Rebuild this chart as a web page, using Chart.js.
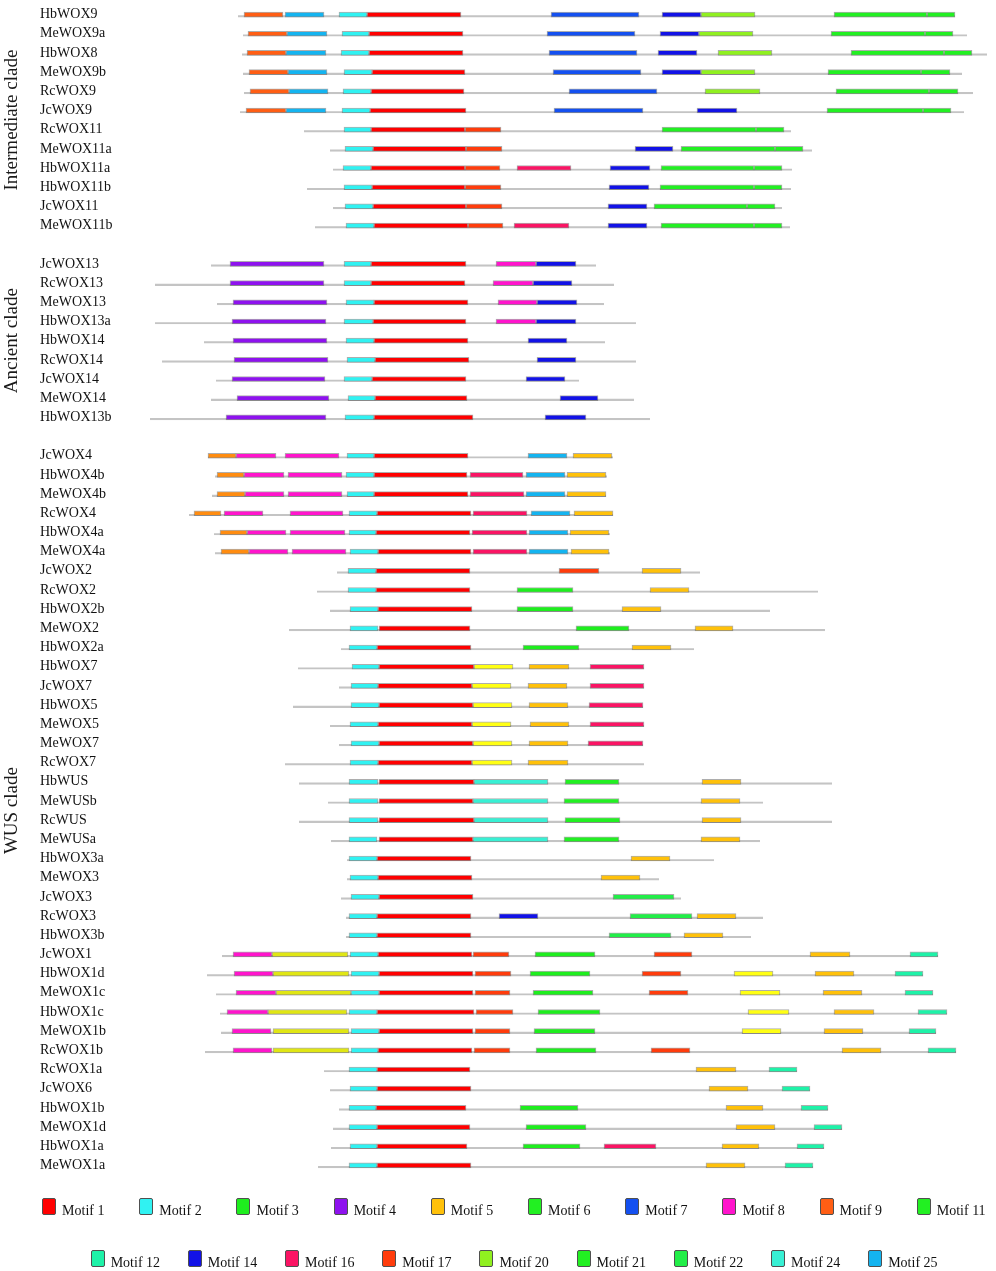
<!DOCTYPE html>
<html>
<head>
<meta charset="utf-8">
<title>WOX protein motifs</title>
<script src="https://cdn.jsdelivr.net/npm/chart.js@4.4.1/dist/chart.umd.min.js"></script>
<style>
  body { margin: 0; overflow: hidden; background: #fff; }
  #wrap { position: absolute; left: 0; top: 0; width: 996px; height: 1271px; }
  #legend {
    position: absolute; left: 30px; top: 1198px; width: 996px;
    display: flex; flex-wrap: wrap; justify-content: center;
    font: 14px 'Liberation Serif', 'Times New Roman', serif; color: #111;
  }
  .cell { width: 97.2px; height: 52px; display: flex; align-items: baseline; }
  .swatch {
    display: inline-block; width: 14px; height: 17px; margin-right: 6px;
    border: 1px solid #505050; border-radius: 2px; box-sizing: border-box;
  }
</style>
</head>
<body>
<div id="wrap"><canvas id="chart"></canvas></div>
<div id="legend"></div>
<script>
// rows top to bottom, '' = gap between clades
const genes = [
  'HbWOX9', 'MeWOX9a', 'HbWOX8', 'MeWOX9b', 'RcWOX9', 'JcWOX9', 'RcWOX11', 'MeWOX11a',
  'HbWOX11a', 'HbWOX11b', 'JcWOX11', 'MeWOX11b', '',
  'JcWOX13', 'RcWOX13', 'MeWOX13', 'HbWOX13a', 'HbWOX14', 'RcWOX14', 'JcWOX14', 'MeWOX14',
  'HbWOX13b', '',
  'JcWOX4', 'HbWOX4b', 'MeWOX4b', 'RcWOX4', 'HbWOX4a', 'MeWOX4a', 'JcWOX2', 'RcWOX2',
  'HbWOX2b', 'MeWOX2', 'HbWOX2a', 'HbWOX7', 'JcWOX7', 'HbWOX5', 'MeWOX5', 'MeWOX7', 'RcWOX7',
  'HbWUS', 'MeWUSb', 'RcWUS', 'MeWUSa', 'HbWOX3a', 'MeWOX3', 'JcWOX3', 'RcWOX3', 'HbWOX3b',
  'JcWOX1', 'HbWOX1d', 'MeWOX1c', 'HbWOX1c', 'MeWOX1b', 'RcWOX1b', 'RcWOX1a', 'JcWOX6',
  'HbWOX1b', 'MeWOX1d', 'HbWOX1a', 'MeWOX1a'
];

const clades = [
  ['Intermediate clade', 'HbWOX9', 'MeWOX11b'],
  ['Ancient clade', 'JcWOX13', 'HbWOX13b'],
  ['WUS clade', 'JcWOX4', 'MeWOX1a']
];

// protein backbone [gene, start, end]
const proteins = [
  ['HbWOX9', 238, 955], ['MeWOX9a', 243, 967], ['HbWOX8', 242, 987], ['MeWOX9b', 243, 962],
  ['RcWOX9', 244, 973], ['JcWOX9', 240, 964], ['RcWOX11', 304, 791], ['MeWOX11a', 330, 812],
  ['HbWOX11a', 333, 792], ['HbWOX11b', 307, 791], ['JcWOX11', 333, 782], ['MeWOX11b', 315, 790],
  ['JcWOX13', 211, 596], ['RcWOX13', 155, 614], ['MeWOX13', 217, 604], ['HbWOX13a', 155, 636],
  ['HbWOX14', 204, 605], ['RcWOX14', 162, 636], ['JcWOX14', 216, 579], ['MeWOX14', 211, 634],
  ['HbWOX13b', 150, 650],
  ['JcWOX4', 208, 613], ['HbWOX4b', 215, 607], ['MeWOX4b', 212, 606], ['RcWOX4', 189, 613],
  ['HbWOX4a', 214, 610], ['MeWOX4a', 215, 610], ['JcWOX2', 337, 700], ['RcWOX2', 317, 818],
  ['HbWOX2b', 330, 770], ['MeWOX2', 289, 825], ['HbWOX2a', 341, 694], ['HbWOX7', 298, 644],
  ['JcWOX7', 339, 644], ['HbWOX5', 293, 643], ['MeWOX5', 330, 644], ['MeWOX7', 339, 643],
  ['RcWOX7', 285, 644], ['HbWUS', 299, 832], ['MeWUSb', 328, 763], ['RcWUS', 299, 832],
  ['MeWUSa', 331, 760], ['HbWOX3a', 347, 714], ['MeWOX3', 347, 659], ['JcWOX3', 341, 681],
  ['RcWOX3', 346, 763], ['HbWOX3b', 346, 751], ['JcWOX1', 222, 938], ['HbWOX1d', 207, 923],
  ['MeWOX1c', 216, 933], ['HbWOX1c', 220, 947], ['MeWOX1b', 221, 936], ['RcWOX1b', 205, 956],
  ['RcWOX1a', 324, 797], ['JcWOX6', 330, 810], ['HbWOX1b', 339, 828], ['MeWOX1d', 333, 842],
  ['HbWOX1a', 331, 824], ['MeWOX1a', 318, 813]
];

// motif hits [gene, start, end]
const motif1 = [
  ['HbWOX9', 367, 461], ['MeWOX9a', 369, 463], ['HbWOX8', 369, 463], ['MeWOX9b', 372, 465],
  ['RcWOX9', 371, 464], ['JcWOX9', 370, 466], ['RcWOX11', 371, 465], ['MeWOX11a', 373, 466],
  ['HbWOX11a', 371, 465], ['HbWOX11b', 372, 465], ['JcWOX11', 373, 466], ['MeWOX11b', 374, 468],
  ['JcWOX13', 371, 466], ['RcWOX13', 371, 465], ['MeWOX13', 374, 468], ['HbWOX13a', 373, 466],
  ['HbWOX14', 374, 468], ['RcWOX14', 375, 469], ['JcWOX14', 372, 466], ['MeWOX14', 375, 467],
  ['HbWOX13b', 374, 473],
  ['JcWOX4', 374, 468], ['HbWOX4b', 374, 467], ['MeWOX4b', 374, 468], ['RcWOX4', 377, 471],
  ['HbWOX4a', 376, 470], ['MeWOX4a', 378, 471], ['JcWOX2', 376, 470], ['RcWOX2', 376, 470],
  ['HbWOX2b', 378, 472], ['MeWOX2', 379, 470], ['HbWOX2a', 377, 471], ['HbWOX7', 379, 474],
  ['JcWOX7', 378, 472], ['HbWOX5', 379, 473], ['MeWOX5', 378, 472], ['MeWOX7', 379, 473],
  ['RcWOX7', 378, 472], ['HbWUS', 379, 474], ['MeWUSb', 379, 473], ['RcWUS', 379, 474],
  ['MeWUSa', 379, 473], ['HbWOX3a', 377, 471], ['MeWOX3', 378, 472], ['JcWOX3', 379, 473],
  ['RcWOX3', 377, 471], ['HbWOX3b', 377, 471], ['JcWOX1', 378, 472], ['HbWOX1d', 379, 473],
  ['MeWOX1c', 379, 473], ['HbWOX1c', 377, 474], ['MeWOX1b', 379, 473], ['RcWOX1b', 378, 472],
  ['RcWOX1a', 377, 470], ['JcWOX6', 377, 471], ['HbWOX1b', 376, 466], ['MeWOX1d', 377, 470],
  ['HbWOX1a', 377, 467], ['MeWOX1a', 377, 471]
];
const motif2 = [
  ['HbWOX9', 339, 367], ['MeWOX9a', 342, 369], ['HbWOX8', 341, 369], ['MeWOX9b', 344, 372],
  ['RcWOX9', 343, 371], ['JcWOX9', 342, 370], ['RcWOX11', 344, 371], ['MeWOX11a', 345, 373],
  ['HbWOX11a', 343, 371], ['HbWOX11b', 344, 372], ['JcWOX11', 345, 373], ['MeWOX11b', 346, 374],
  ['JcWOX13', 344, 371], ['RcWOX13', 344, 371], ['MeWOX13', 346, 374], ['HbWOX13a', 344, 373],
  ['HbWOX14', 346, 374], ['RcWOX14', 347, 375], ['JcWOX14', 344, 372], ['MeWOX14', 348, 375],
  ['HbWOX13b', 345, 374],
  ['JcWOX4', 347, 374], ['HbWOX4b', 346, 374], ['MeWOX4b', 347, 374], ['RcWOX4', 349, 377],
  ['HbWOX4a', 349, 376], ['MeWOX4a', 350, 378], ['JcWOX2', 348, 376], ['RcWOX2', 348, 376],
  ['HbWOX2b', 350, 378], ['MeWOX2', 350, 378], ['HbWOX2a', 349, 377], ['HbWOX7', 352, 379],
  ['JcWOX7', 351, 378], ['HbWOX5', 351, 379], ['MeWOX5', 350, 378], ['MeWOX7', 351, 379],
  ['RcWOX7', 350, 378], ['HbWUS', 349, 378], ['MeWUSb', 349, 378], ['RcWUS', 349, 378],
  ['MeWUSa', 349, 377], ['HbWOX3a', 349, 377], ['MeWOX3', 350, 378], ['JcWOX3', 351, 379],
  ['RcWOX3', 349, 377], ['HbWOX3b', 349, 377], ['JcWOX1', 350, 378], ['HbWOX1d', 351, 379],
  ['MeWOX1c', 351, 379], ['HbWOX1c', 349, 377], ['MeWOX1b', 351, 379], ['RcWOX1b', 351, 378],
  ['RcWOX1a', 349, 377], ['JcWOX6', 350, 377], ['HbWOX1b', 349, 376], ['MeWOX1d', 349, 377],
  ['HbWOX1a', 350, 377], ['MeWOX1a', 349, 377]
];
const motif3 = [
  ['RcWOX2', 517, 573], ['HbWOX2b', 517, 573], ['MeWOX2', 576, 629], ['HbWOX2a', 523, 579],
  ['JcWOX1', 535, 595], ['HbWOX1d', 530, 590], ['MeWOX1c', 533, 593], ['HbWOX1c', 538, 600],
  ['MeWOX1b', 534, 595], ['RcWOX1b', 536, 596], ['HbWOX1b', 520, 578], ['MeWOX1d', 526, 586],
  ['HbWOX1a', 523, 580]
];
const motif4 = [
  ['JcWOX13', 230, 324], ['RcWOX13', 230, 324], ['MeWOX13', 233, 327], ['HbWOX13a', 232, 326],
  ['HbWOX14', 233, 327], ['RcWOX14', 234, 328], ['JcWOX14', 232, 325], ['MeWOX14', 237, 329],
  ['HbWOX13b', 226, 326]
];
const motif5 = [
  ['JcWOX4', 573, 612], ['HbWOX4b', 567, 606], ['MeWOX4b', 567, 606], ['RcWOX4', 574, 613],
  ['HbWOX4a', 570, 609], ['MeWOX4a', 571, 609], ['JcWOX2', 642, 681], ['RcWOX2', 650, 689],
  ['HbWOX2b', 622, 661], ['MeWOX2', 695, 733], ['HbWOX2a', 632, 671], ['HbWOX7', 529, 569],
  ['JcWOX7', 528, 567], ['HbWOX5', 529, 568], ['MeWOX5', 530, 569], ['MeWOX7', 529, 568],
  ['RcWOX7', 528, 568], ['HbWUS', 702, 741], ['MeWUSb', 701, 740], ['RcWUS', 702, 741],
  ['MeWUSa', 701, 740], ['HbWOX3a', 631, 670], ['MeWOX3', 601, 640], ['RcWOX3', 697, 736],
  ['HbWOX3b', 684, 723], ['JcWOX1', 810, 850], ['HbWOX1d', 815, 854], ['MeWOX1c', 823, 862],
  ['HbWOX1c', 834, 874], ['MeWOX1b', 824, 863], ['RcWOX1b', 842, 881], ['RcWOX1a', 696, 736],
  ['JcWOX6', 709, 748], ['HbWOX1b', 726, 763], ['MeWOX1d', 736, 775], ['HbWOX1a', 722, 759],
  ['MeWOX1a', 706, 745]
];
const motif6 = [
  ['HbWUS', 565, 619], ['MeWUSb', 564, 619], ['RcWUS', 565, 620], ['MeWUSa', 564, 619]
];
const motif7 = [
  ['HbWOX9', 551, 639], ['MeWOX9a', 547, 635], ['HbWOX8', 549, 637], ['MeWOX9b', 553, 641],
  ['RcWOX9', 569, 657], ['JcWOX9', 554, 643]
];
const motif8 = [
  ['JcWOX13', 496, 536], ['RcWOX13', 493, 533], ['MeWOX13', 498, 537], ['HbWOX13a', 496, 536],
  ['JcWOX4', 236, 276], ['JcWOX4', 285, 339], ['HbWOX4b', 244, 284], ['HbWOX4b', 288, 342],
  ['MeWOX4b', 245, 284], ['MeWOX4b', 288, 342], ['RcWOX4', 224, 263], ['RcWOX4', 290, 343],
  ['HbWOX4a', 247, 286], ['HbWOX4a', 290, 345], ['MeWOX4a', 249, 288], ['MeWOX4a', 292, 346],
  ['JcWOX1', 233, 272], ['HbWOX1d', 234, 273], ['MeWOX1c', 236, 276], ['HbWOX1c', 227, 268],
  ['MeWOX1b', 232, 271], ['RcWOX1b', 233, 272]
];
const motif9 = [
  ['HbWOX9', 244, 283], ['MeWOX9a', 248, 287], ['HbWOX8', 247, 286], ['MeWOX9b', 249, 288],
  ['RcWOX9', 250, 289], ['JcWOX9', 246, 286]
];
const motif11 = [
  ['HbWOX9', 834, 927], ['MeWOX9a', 831, 925], ['HbWOX8', 851, 944], ['MeWOX9b', 828, 921],
  ['RcWOX9', 836, 929], ['JcWOX9', 827, 923], ['RcWOX11', 662, 756], ['MeWOX11a', 681, 775],
  ['HbWOX11a', 661, 754], ['HbWOX11b', 660, 754], ['JcWOX11', 654, 747], ['MeWOX11b', 661, 754]
];
const motif12 = [
  ['JcWOX1', 910, 938], ['HbWOX1d', 895, 923], ['MeWOX1c', 905, 933], ['HbWOX1c', 918, 947],
  ['MeWOX1b', 909, 936], ['RcWOX1b', 928, 956], ['RcWOX1a', 769, 797], ['JcWOX6', 782, 810],
  ['HbWOX1b', 801, 828], ['MeWOX1d', 814, 842], ['HbWOX1a', 797, 824], ['MeWOX1a', 785, 813]
];
const motif14 = [
  ['HbWOX9', 662, 701], ['MeWOX9a', 660, 699], ['HbWOX8', 658, 697], ['MeWOX9b', 662, 701],
  ['JcWOX9', 697, 737], ['MeWOX11a', 635, 673], ['HbWOX11a', 610, 650], ['HbWOX11b', 609, 649],
  ['JcWOX11', 608, 647], ['MeWOX11b', 608, 647], ['JcWOX13', 536, 576], ['RcWOX13', 533, 572],
  ['MeWOX13', 537, 577], ['HbWOX13a', 536, 576], ['HbWOX14', 528, 567], ['RcWOX14', 537, 576],
  ['JcWOX14', 526, 565], ['MeWOX14', 560, 598], ['HbWOX13b', 545, 586], ['RcWOX3', 499, 538]
];
const motif16 = [
  ['HbWOX11a', 517, 571], ['MeWOX11b', 514, 569], ['HbWOX4b', 470, 523], ['MeWOX4b', 470, 524],
  ['RcWOX4', 473, 527], ['HbWOX4a', 472, 527], ['MeWOX4a', 473, 527], ['HbWOX7', 590, 644],
  ['JcWOX7', 590, 644], ['HbWOX5', 589, 643], ['MeWOX5', 590, 644], ['MeWOX7', 588, 643],
  ['HbWOX1a', 604, 656]
];
const motif17 = [
  ['RcWOX11', 465, 501], ['MeWOX11a', 466, 502], ['HbWOX11a', 465, 500], ['HbWOX11b', 465, 501],
  ['JcWOX11', 466, 502], ['MeWOX11b', 468, 503], ['JcWOX2', 559, 599],
  ['JcWOX1', 473, 509], ['JcWOX1', 654, 692], ['HbWOX1d', 475, 511], ['HbWOX1d', 642, 681],
  ['MeWOX1c', 475, 510], ['MeWOX1c', 649, 688], ['HbWOX1c', 476, 513], ['MeWOX1b', 475, 510],
  ['RcWOX1b', 474, 510], ['RcWOX1b', 651, 690]
];
const motif20 = [
  ['HbWOX9', 701, 755], ['MeWOX9a', 699, 753], ['HbWOX8', 718, 772], ['MeWOX9b', 701, 755],
  ['RcWOX9', 705, 760]
];
const motif21 = [
  ['HbWOX9', 927, 955], ['MeWOX9a', 925, 953], ['HbWOX8', 944, 972], ['MeWOX9b', 921, 950],
  ['RcWOX9', 929, 958], ['JcWOX9', 923, 951], ['RcWOX11', 756, 784], ['MeWOX11a', 775, 803],
  ['HbWOX11a', 754, 782], ['HbWOX11b', 754, 782], ['JcWOX11', 747, 775], ['MeWOX11b', 754, 782]
];
const motif22 = [
  ['JcWOX3', 613, 674], ['RcWOX3', 630, 692], ['HbWOX3b', 609, 671]
];
const motif24 = [
  ['HbWUS', 474, 548], ['MeWUSb', 473, 548], ['RcWUS', 474, 548], ['MeWUSa', 473, 548]
];
const motif25 = [
  ['HbWOX9', 285, 324], ['MeWOX9a', 287, 327], ['HbWOX8', 286, 326], ['MeWOX9b', 288, 327],
  ['RcWOX9', 289, 328], ['JcWOX9', 286, 326], ['JcWOX4', 528, 567], ['HbWOX4b', 526, 565],
  ['MeWOX4b', 526, 565], ['RcWOX4', 531, 570], ['HbWOX4a', 529, 568], ['MeWOX4a', 529, 568]
];
// motifs drawn in the figure but missing from its key
const otherOrange = [
  ['JcWOX4', 208, 236], ['HbWOX4b', 217, 244], ['MeWOX4b', 217, 245], ['RcWOX4', 194, 221],
  ['HbWOX4a', 220, 247], ['MeWOX4a', 221, 249]
];
const otherYellow = [
  ['HbWOX7', 474, 513], ['JcWOX7', 472, 511], ['HbWOX5', 473, 512], ['MeWOX5', 472, 511],
  ['MeWOX7', 473, 512], ['RcWOX7', 472, 512], ['HbWOX1d', 734, 773], ['MeWOX1c', 740, 780],
  ['HbWOX1c', 748, 789], ['MeWOX1b', 742, 781]
];
const otherOlive = [
  ['JcWOX1', 272, 348], ['HbWOX1d', 273, 349], ['MeWOX1c', 276, 351], ['HbWOX1c', 268, 347],
  ['MeWOX1b', 273, 349], ['RcWOX1b', 273, 349]
];

const legendMotifs = ['Motif 1', 'Motif 2', 'Motif 3', 'Motif 4', 'Motif 5', 'Motif 6', 'Motif 7',
  'Motif 8', 'Motif 9', 'Motif 11', 'Motif 12', 'Motif 14', 'Motif 16', 'Motif 17', 'Motif 20',
  'Motif 21', 'Motif 22', 'Motif 24', 'Motif 25'];

const serif = "'Liberation Serif', 'Times New Roman', serif";

function motifSet(label, rows, color) {
  return {
    label: label,
    data: rows.map(r => ({ y: r[0], x: [r[1], r[2]] })),
    backgroundColor: color,
    borderColor: 'rgba(50, 50, 50, 0.4)',
    borderWidth: 1,
    borderSkipped: false,
    xAxisID: 'x',
    yAxisID: 'y',
    order: 0
  };
}

const datasets = [
  motifSet('Motif 1', motif1, '#ff0000'),
  motifSet('Motif 2', motif2, '#30f2f2'),
  motifSet('Motif 3', motif3, '#1eee1e'),
  motifSet('Motif 4', motif4, '#8e12ee'),
  motifSet('Motif 5', motif5, '#ffc10a'),
  motifSet('Motif 6', motif6, '#22f022'),
  motifSet('Motif 7', motif7, '#1450f0'),
  motifSet('Motif 8', motif8, '#ff14cc'),
  motifSet('Motif 9', motif9, '#ff5e14'),
  motifSet('Motif 11', motif11, '#22f022'),
  motifSet('Motif 12', motif12, '#1ef2a8'),
  motifSet('Motif 14', motif14, '#1212e6'),
  motifSet('Motif 16', motif16, '#fa1464'),
  motifSet('Motif 17', motif17, '#ff3c0c'),
  motifSet('Motif 20', motif20, '#90f020'),
  motifSet('Motif 21', motif21, '#22f022'),
  motifSet('Motif 22', motif22, '#22ee48'),
  motifSet('Motif 24', motif24, '#38f0d4'),
  motifSet('Motif 25', motif25, '#14b4f0'),
  motifSet('Other motif a', otherOrange, '#ff8c10'),
  motifSet('Other motif b', otherYellow, '#ffff14'),
  motifSet('Other motif c', otherOlive, '#e0e614'),
  {
    label: 'Protein',
    data: proteins.map(r => ({ y: r[0], x: [r[1], r[2]] })),
    backgroundColor: 'rgba(0, 0, 0, 0)',
    borderColor: '#c4c4c4',
    borderWidth: { top: 0, right: 0, bottom: 1.5, left: 0 },
    borderSkipped: false,
    xAxisID: 'x',
    yAxisID: 'y',
    order: 1
  }
];

// clade names written sideways, centred on their rows
const cladeLabels = {
  id: 'cladeLabels',
  afterDraw(chart) {
    const ctx = chart.ctx;
    const y = chart.scales.y;
    ctx.save();
    ctx.font = '19px ' + serif;
    ctx.fillStyle = '#1a1a1a';
    ctx.textAlign = 'center';
    ctx.textBaseline = 'middle';
    clades.forEach(c => {
      const mid = (y.getPixelForValue(genes.indexOf(c[1])) + y.getPixelForValue(genes.indexOf(c[2]))) / 2;
      ctx.save();
      ctx.translate(12, mid);
      ctx.rotate(-Math.PI / 2);
      ctx.fillText(c[0], 0, 0);
      ctx.restore();
    });
    ctx.restore();
  }
};

// key below the chart, built from the chart's own legend items
const htmlLegend = {
  id: 'htmlLegend',
  afterUpdate(chart) {
    const box = document.getElementById('legend');
    box.innerHTML = '';
    const items = chart.options.plugins.legend.labels.generateLabels(chart)
      .filter(item => legendMotifs.includes(item.text));
    items.forEach(item => {
      const cell = document.createElement('div');
      cell.className = 'cell';
      const sw = document.createElement('span');
      sw.className = 'swatch';
      sw.style.background = item.fillStyle;
      const txt = document.createElement('span');
      txt.textContent = item.text;
      cell.appendChild(sw);
      cell.appendChild(txt);
      box.appendChild(cell);
    });
  }
};

new Chart(document.getElementById('chart'), {
  type: 'bar',
  data: { labels: genes, datasets: datasets },
  options: {
    indexAxis: 'y',
    responsive: true,
    maintainAspectRatio: false,
    animation: false,
    layout: { padding: { top: 5, bottom: 96, left: 0, right: 0 } },
    datasets: { bar: { grouped: false, maxBarThickness: 5, categoryPercentage: 1, barPercentage: 1 } },
    scales: {
      y: {
        type: 'category',
        position: 'left',
        grid: { display: false },
        border: { display: false },
        ticks: {
          autoSkip: false,
          crossAlign: 'far',
          padding: 0,
          labelOffset: 0,
          color: '#111',
          font: { family: serif, size: 14 }
        },
        afterFit(s) { s.width = 80; s.paddingTop = 0; s.paddingBottom = 0; }
      },
      yPad: {
        type: 'linear',
        position: 'left',
        weight: 1,
        grid: { display: false },
        border: { display: false },
        ticks: { display: false },
        afterFit(s) { s.width = 40; }
      },
      x: {
        type: 'linear',
        min: 120,
        max: 996,
        display: false
      }
    },
    plugins: {
      legend: { display: false },
      tooltip: { enabled: false }
    }
  },
  plugins: [cladeLabels, htmlLegend]
});
</script>
</body>
</html>
